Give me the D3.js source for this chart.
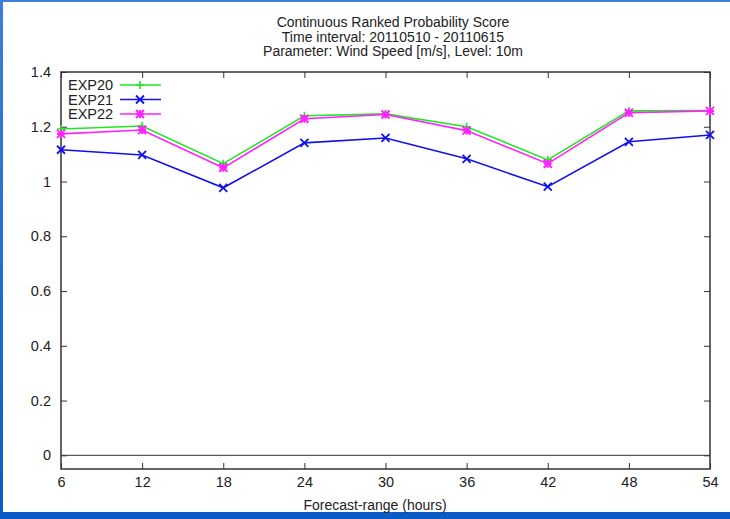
<!DOCTYPE html>
<html><head><meta charset="utf-8">
<script src="https://cdn.jsdelivr.net/npm/d3@7/dist/d3.min.js"></script>
<style>
html,body{margin:0;padding:0;background:#fff;overflow:hidden;}
svg{display:block;}
text{font-family:"Liberation Sans",Arial,sans-serif;fill:#222;}
</style></head>
<body>
<svg id="c" width="730" height="519"></svg>
<script>
const hours = [6, 12, 18, 24, 30, 36, 42, 48, 54];
const exp20 = [1.192, 1.203, 1.065, 1.240, 1.247, 1.200, 1.079, 1.258, 1.259];
const exp21 = [1.116, 1.097, 0.977, 1.141, 1.159, 1.083, 0.981, 1.145, 1.170];
const exp22 = [1.174, 1.188, 1.050, 1.229, 1.245, 1.186, 1.065, 1.251, 1.258];
const seriesNames = ["EXP20", "EXP21", "EXP22"];
const yTicks = [0, 0.2, 0.4, 0.6, 0.8, 1, 1.2, 1.4];
const titleLines = ["Continuous Ranked Probability Score", "Time interval: 20110510 - 20110615", "Parameter: Wind Speed [m/s], Level: 10m"];
const xLabel = "Forecast-range (hours)";

const svg = d3.select("#c");
const defs = svg.append("defs");
const grad = defs.append("linearGradient").attr("id","bg").attr("x1",0).attr("y1",0).attr("x2",0).attr("y2",1);
grad.append("stop").attr("offset","0%").attr("stop-color","#3d7fd9");
grad.append("stop").attr("offset","100%").attr("stop-color","#0a5bc8");
svg.append("rect").attr("width",730).attr("height",519).attr("fill","url(#bg)");
svg.append("rect").attr("x",3).attr("y",2).attr("width",727).attr("height",510).attr("fill","#fff");

const L = 61, R = 710, T = 72, B = 469;
const x = d3.scaleLinear().domain([6, 54]).range([L, R]);
const y = d3.scaleLinear().domain([-0.05, 1.4]).range([B, T]);

const axisColor = "#333";
const g = svg.append("g");
const tl = 6;
const xAxB = d3.axisBottom(x).tickValues(hours).tickSize(-tl).tickFormat(d3.format("d")).tickPadding(8);
const xAxT = d3.axisTop(x).tickValues(hours).tickSize(-tl).tickFormat("");
const yAxL = d3.axisLeft(y).tickValues(yTicks).tickSize(-tl).tickFormat(d => d3.format("")(d)).tickPadding(10);
const yAxR = d3.axisRight(y).tickValues(yTicks).tickSize(-tl).tickFormat("");
function style(sel){ sel.select(".domain").remove(); sel.selectAll("line").attr("stroke",axisColor).attr("stroke-width",1); sel.selectAll("text").attr("font-size",14.5).attr("fill","#222").style("font-family",'"Liberation Sans",Arial,sans-serif'); }
g.append("g").attr("transform",`translate(0,${B})`).call(xAxB).call(style);
g.append("g").attr("transform",`translate(0,${T})`).call(xAxT).call(style);
g.append("g").attr("transform",`translate(${L},0)`).call(yAxL).call(style);
g.append("g").attr("transform",`translate(${R},0)`).call(yAxR).call(style);

svg.append("line").attr("x1",L).attr("x2",R).attr("y1",y(0)).attr("y2",y(0)).attr("stroke",axisColor).attr("stroke-width",1);
svg.append("rect").attr("x",L).attr("y",T).attr("width",R-L).attr("height",B-T).attr("fill","none").attr("stroke",axisColor).attr("stroke-width",1.5);

const colors = ["#22e622", "#1010ee", "#ff22ff"];
const data = [exp20, exp21, exp22];
const line = d3.line().x((d,i)=>x(hours[i])).y(d=>y(d));

function marker(sel, type, c){
  const s = 4;
  if (type === 0) {
    sel.append("path").attr("d",`M${-s},0H${s}M0,${-s}V${s}`).attr("stroke",c).attr("stroke-width",1.6).attr("fill","none");
  } else if (type === 1) {
    sel.append("path").attr("d",`M${-s},${-s}L${s},${s}M${-s},${s}L${s},${-s}`).attr("stroke",c).attr("stroke-width",1.8).attr("fill","none");
  } else {
    sel.append("path").attr("d",`M${-s},0H${s}M0,${-s}V${s}M${-s},${-s}L${s},${s}M${-s},${s}L${s},${-s}`).attr("stroke",c).attr("stroke-width",2).attr("fill","none");
  }
}

data.forEach((vals, k) => {
  svg.append("path").datum(vals).attr("d", line).attr("fill","none").attr("stroke",colors[k]).attr("stroke-width",1.6);
});
data.forEach((vals, k) => {
  vals.forEach((v,i)=>{
    const m = svg.append("g").attr("transform",`translate(${x(hours[i])},${y(v)})`);
    marker(m, k, colors[k]);
  });
});

seriesNames.forEach((n,k)=>{
  const ly = 85 + k*14.5;
  svg.append("text").attr("x",68).attr("y",ly+5).attr("font-size",14.5).text(n);
  svg.append("line").attr("x1",120).attr("x2",161).attr("y1",ly).attr("y2",ly).attr("stroke",colors[k]).attr("stroke-width",1.6);
  const m = svg.append("g").attr("transform",`translate(140,${ly})`);
  marker(m, k, colors[k]);
});

titleLines.forEach((t,i)=>{
  svg.append("text").attr("x",393).attr("y",27+i*14.5).attr("text-anchor","middle").attr("font-size",14).text(t);
});
svg.append("text").attr("x",375).attr("y",510).attr("text-anchor","middle").attr("font-size",14).text(xLabel);
</script>
</body></html>
